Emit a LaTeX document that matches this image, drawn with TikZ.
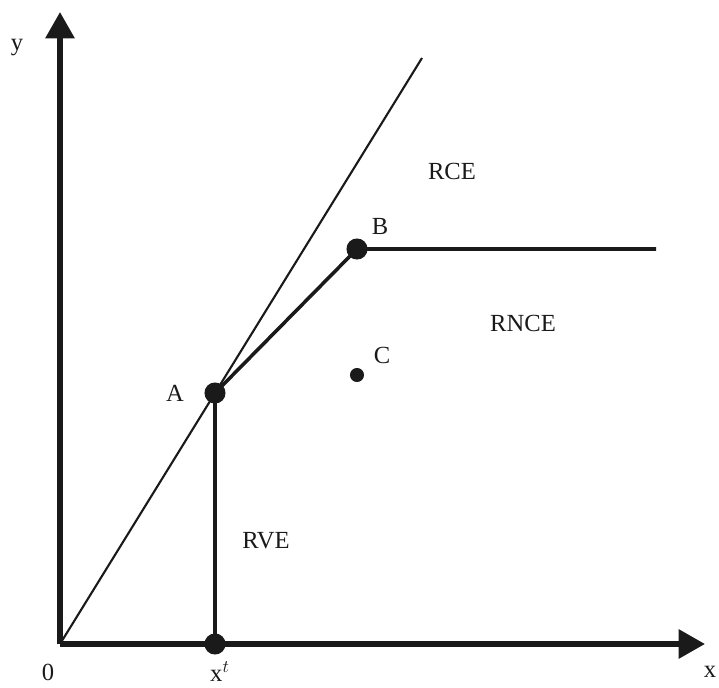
\documentclass[tikz,border=0pt]{standalone}
\usepackage{fontspec}
\setmainfont{Liberation Serif}
\usetikzlibrary{arrows.meta,positioning}
\definecolor{Ink}{HTML}{1A1A1A}

\begin{document}
\begin{tikzpicture}[font=\fontsize{14}{16}\selectfont, >={Triangle[length=15pt,width=16pt]},
  axis/.style={draw=Ink, line width=3.2pt},
  frontier/.style={draw=Ink, line width=2pt},
  bigdot/.style={circle, fill=Ink, inner sep=0pt, minimum size=12pt},
  smalldot/.style={circle, fill=Ink, inner sep=0pt, minimum size=8pt},
  region/.style={text=Ink}]
  \useasboundingbox (-1.2,-0.86) rectangle (13.18,12.88);

  % Axes and the ray through the origin.
  \coordinate (O) at (0,0);
  \coordinate (ytip) at (0,12.64);
  \coordinate (xtip) at (12.9,0);
  \coordinate (ray) at (7.24,11.72);
  \draw[axis, ->] (O) -- (ytip);
  \draw[axis, ->] (O) -- (xtip);
  \draw[Ink, line width=1.2pt] (O) -- (ray);

  % Points on the frontier.
  \node[bigdot] (A) at (3.1,5.02) {};
  \node[bigdot] (B) at (5.94,7.9) {};
  \node[bigdot] (xt) at (3.1,0) {};
  \node[smalldot] (C) at (5.94,5.38) {};
  \coordinate (Bend) at (11.92,7.9);
  \draw[frontier] (A.center) -- (B.center) -- (Bend);
  \draw[Ink, line width=2.6pt] (A.center) -- (xt.center);

  % Labels.
  \node[region] (ylab) at (-0.86,11.92) {y};
  \node[region] (xlab) at (13.0,-0.56) {x};
  \node[region] (olab) at (-0.24,-0.56) {0};
  \node[region] (xtlab) at (3.2,-0.56) {x$^t$};
  \node[region, left=0.28cm of A] (alab) {A};
  \node[region] (blab) at (6.4,8.36) {B};
  \node[region] (clab) at (6.44,5.78) {C};
  \node[region] (rce) at (7.84,9.46) {RCE};
  \node[region] (rnce) at (9.26,6.42) {RNCE};
  \node[region] (rve) at (4.12,2.06) {RVE};
\end{tikzpicture}
\end{document}
